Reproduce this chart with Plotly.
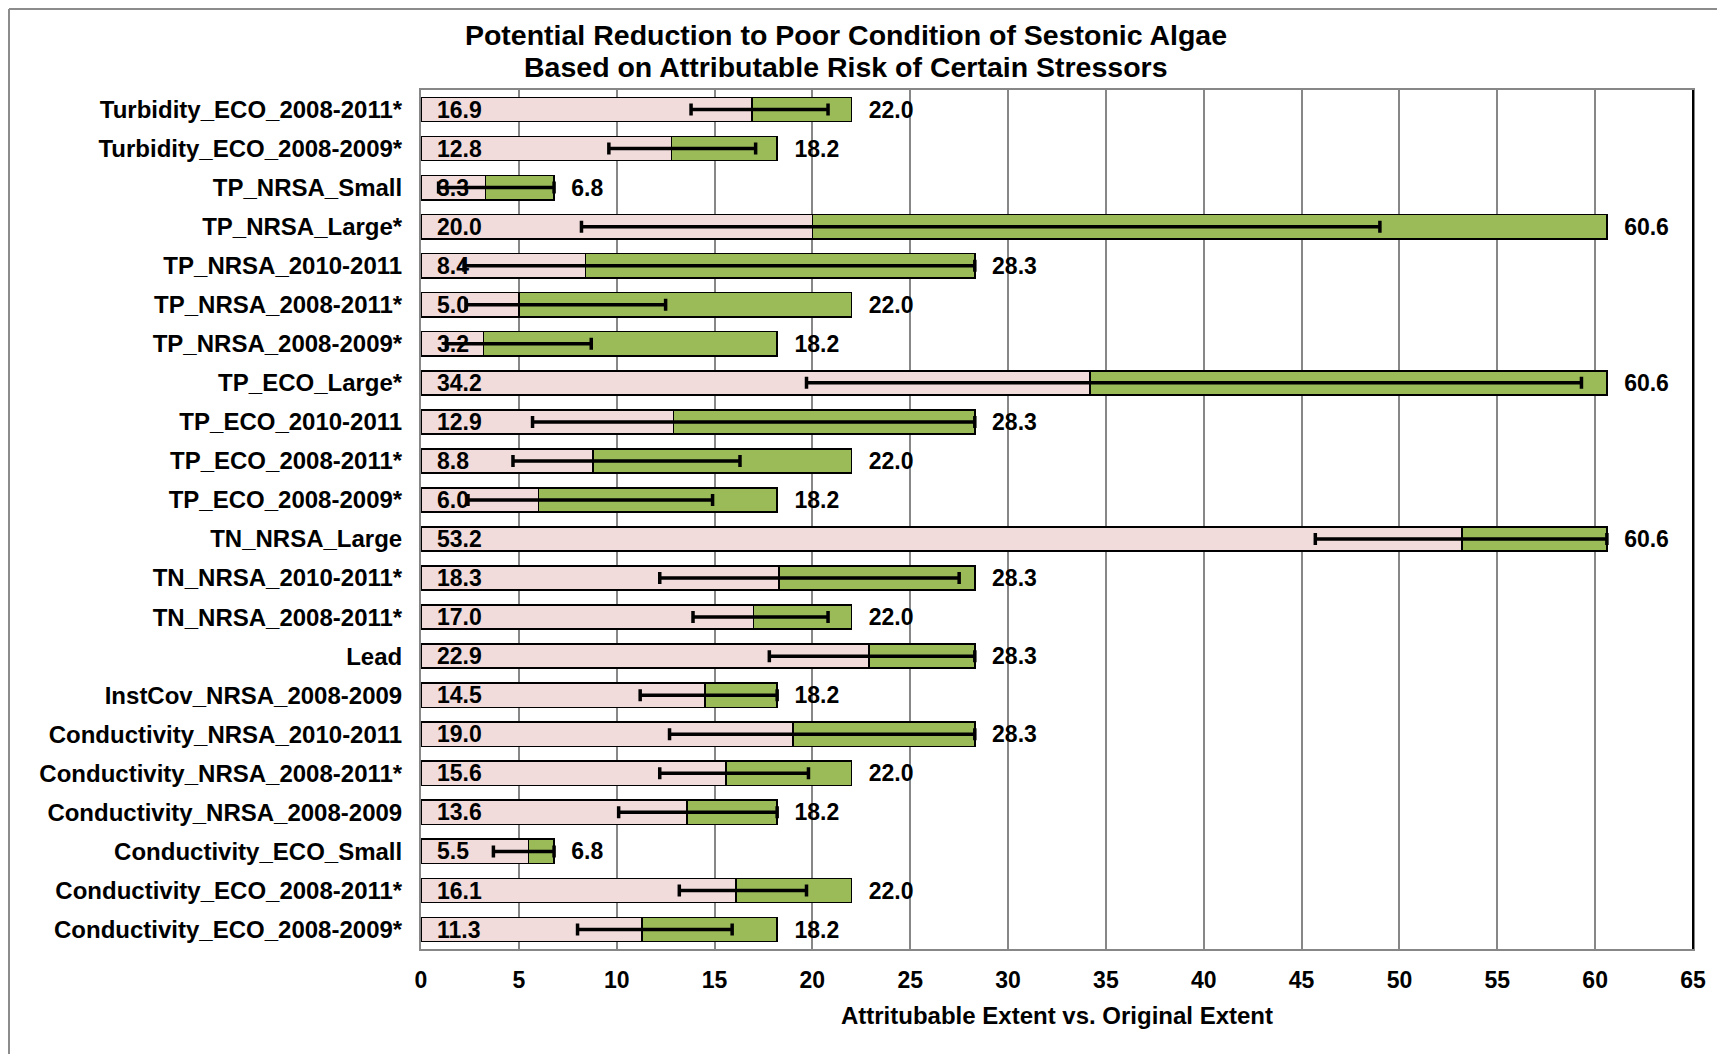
import plotly.graph_objects as go

categories = ["Turbidity_ECO_2008-2011*", "Turbidity_ECO_2008-2009*", "TP_NRSA_Small",
              "TP_NRSA_Large*", "TP_NRSA_2010-2011", "TP_NRSA_2008-2011*", "TP_NRSA_2008-2009*",
              "TP_ECO_Large*", "TP_ECO_2010-2011", "TP_ECO_2008-2011*", "TP_ECO_2008-2009*",
              "TN_NRSA_Large", "TN_NRSA_2010-2011*", "TN_NRSA_2008-2011*", "Lead",
              "InstCov_NRSA_2008-2009", "Conductivity_NRSA_2010-2011", "Conductivity_NRSA_2008-2011*",
              "Conductivity_NRSA_2008-2009", "Conductivity_ECO_Small", "Conductivity_ECO_2008-2011*",
              "Conductivity_ECO_2008-2009*"]
attributable = [16.9, 12.8, 3.3, 20.0, 8.4, 5.0, 3.2, 34.2, 12.9, 8.8, 6.0,
                53.2, 18.3, 17.0, 22.9, 14.5, 19.0, 15.6, 13.6, 5.5, 16.1, 11.3]
original = [22.0, 18.2, 6.8, 60.6, 28.3, 22.0, 18.2, 60.6, 28.3, 22.0, 18.2,
            60.6, 28.3, 22.0, 28.3, 18.2, 28.3, 22.0, 18.2, 6.8, 22.0, 18.2]
ci_low = [13.8, 9.6, 0.9, 8.2, 2.2, 2.3, 1.3, 19.7, 5.7, 4.7, 2.4,
          45.7, 12.2, 13.9, 17.8, 11.2, 12.7, 12.2, 10.1, 3.7, 13.2, 8.0]
ci_high = [20.8, 17.1, 6.8, 49.0, 28.3, 12.5, 8.7, 59.3, 28.3, 16.3, 14.9,
           60.6, 27.5, 20.8, 28.3, 18.2, 28.3, 19.8, 18.2, 6.8, 19.7, 15.9]
x_ticks = [0, 5, 10, 15, 20, 25, 30, 35, 40, 45, 50, 55, 60, 65]

title_line1 = "Potential Reduction to Poor Condition of Sestonic Algae"
title_line2 = "Based on Attributable Risk of Certain Stressors"
x_title = "Attritubable Extent vs. Original Extent"

FAM = "Liberation Sans, Arial, sans-serif"
W, H = 1725, 1054
ML, MR, MT, MB = 413, 40, 82, 113
PW, PH = W - ML - MR, H - MT - MB
N = len(categories)
TEXT_SHIFT = 0.06

remaining = [o - a for o, a in zip(original, attributable)]
err_plus = [h - a for h, a in zip(ci_high, attributable)]
err_minus = [a - l for a, l in zip(attributable, ci_low)]

fig = go.Figure()
fig.add_trace(go.Bar(
    y=categories, x=attributable, orientation="h",
    marker=dict(color="#F2DCDB", line=dict(color="black", width=1.6)),
    width=0.62, hoverinfo="x+y", showlegend=False))
fig.add_trace(go.Bar(
    y=categories, x=remaining, orientation="h",
    marker=dict(color="#9BBB59", line=dict(color="black", width=1.6)),
    width=0.62, hoverinfo="x+y", showlegend=False))
# value labels at the base of the bars
fig.add_trace(go.Scatter(
    y=categories, x=[0] * N, mode="markers+text", yaxis="y2",
    text=[f"{v:.1f}" for v in attributable], textposition="middle right",
    textfont=dict(family=FAM, size=23, color="black", weight="bold"),
    marker=dict(size=24, color="rgba(0,0,0,0)"), hoverinfo="skip", showlegend=False))
# error bars
fig.add_trace(go.Scatter(
    y=categories, x=attributable, mode="markers",
    marker=dict(size=1, color="rgba(0,0,0,0)"),
    error_x=dict(type="data", symmetric=False, array=err_plus, arrayminus=err_minus,
                 color="black", thickness=3.5, width=6),
    hoverinfo="skip", showlegend=False))
# total labels
fig.add_trace(go.Scatter(
    y=categories, x=original, mode="markers+text", yaxis="y2",
    text=[f"{v:.1f}" for v in original], textposition="middle right",
    textfont=dict(family=FAM, size=23, color="black", weight="bold"),
    marker=dict(size=26, color="rgba(0,0,0,0)"), hoverinfo="skip", showlegend=False))

fig.update_layout(
    width=W, height=H,
    barmode="stack",
    plot_bgcolor="white", paper_bgcolor="white",
    margin=dict(l=ML, r=MR, t=MT, b=MB, autoexpand=False),
    font=dict(family=FAM, color="black", weight="bold"),
    title=dict(text=title_line1, x=838 / W, xanchor="center", xref="container",
               y=1 - 27 / H, yanchor="middle", yref="container",
               font=dict(family=FAM, size=28.5, color="black", weight="bold")),
    xaxis=dict(range=[0, 65], autorange=False, tickvals=x_ticks, showgrid=True,
               gridcolor="#878787", gridwidth=1.5,
               zeroline=False, showline=True, linecolor="#878787", linewidth=2, mirror=True,
               ticks="", ticklabelstandoff=9,
               tickfont=dict(family=FAM, size=23, color="black", weight="bold"),
               title=dict(text=x_title, standoff=16,
                          font=dict(family=FAM, size=24, color="black", weight="bold"))),
    yaxis=dict(categoryorder="array", categoryarray=categories,
               range=[N - 0.5, -0.5], autorange=False,
               showgrid=False, showline=True, linecolor="#878787", linewidth=2, mirror=True,
               ticks="", ticklabelstandoff=12,
               tickfont=dict(family=FAM, size=24, color="black", weight="bold")),
    yaxis2=dict(overlaying="y", visible=False, categoryorder="array", categoryarray=categories,
                range=[N - 0.5 - TEXT_SHIFT, -0.5 - TEXT_SHIFT], autorange=False),
    annotations=[
        dict(text=title_line2, xref="paper", yref="paper",
             x=(838 - ML) / PW, y=(H - MB - 59) / PH, xanchor="center", yanchor="middle",
             showarrow=False, font=dict(family=FAM, size=28.5, color="black", weight="bold")),
    ],
    shapes=[
        dict(type="line", xref="x domain", yref="y domain", x0=1, x1=1, y0=0, y1=1,
             line=dict(color="black", width=2)),
        dict(type="line", xref="paper", yref="paper",
             x0=(1 - ML) / PW, x1=(1 - ML) / PW,
             y0=(H - MB - 1) / PH, y1=-(MB + 10) / PH,
             line=dict(color="#8c8c8c", width=2)),
        dict(type="line", xref="paper", yref="paper",
             x0=(1 - ML) / PW, x1=(W - ML + 10) / PW,
             y0=(H - MB - 1) / PH, y1=(H - MB - 1) / PH,
             line=dict(color="#8c8c8c", width=2)),
    ],
)

fig.write_html("out.html")
